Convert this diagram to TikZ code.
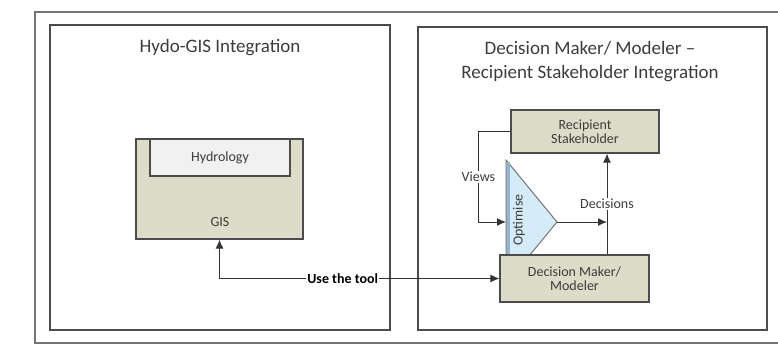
\documentclass[tikz,border=0pt]{standalone}
\usepackage{fontspec}
\setmainfont{Carlito}
\usetikzlibrary{arrows.meta,positioning,calc}
\definecolor{boxfill}{HTML}{DCDCC8}
\definecolor{hydfill}{HTML}{F1F1F1}
\definecolor{optfill}{HTML}{D5EBF7}
\definecolor{optedge}{HTML}{8FB4CC}
\definecolor{txtgray}{HTML}{3C3C3C}

\begin{document}
\begin{tikzpicture}[x=1pt,y=-1pt,
panel/.style={draw=black!70,line width=1.3pt},
block/.style={draw=black!70,line width=1.2pt,fill=boxfill,text=txtgray,
  align=center,font=\fontsize{14}{16}\selectfont},
title/.style={text=txtgray,align=center,font=\fontsize{19}{24}\selectfont},
lbl/.style={text=txtgray,font=\fontsize{14}{16}\selectfont},
arr/.style={draw=black!80,line width=1pt,-{Latex[length=9pt,width=8pt]}}]
\useasboundingbox (0,0) rectangle (778,348);
% page frame
\draw[draw=black!55,line width=1.5pt] (778,12) -- (35,12) -- (35,343) -- (778,343);
% panels
\draw[panel] (50,25) rectangle (390,330);
\draw[panel] (418,27) rectangle (767,330);
\node[title] (ltitle) at (220,48) {Hydo-GIS Integration};
\node[title] (rtitle) at (590,62) {Decision Maker/ Modeler --\\Recipient Stakeholder Integration};
% left side
\node[block,minimum width=167,minimum height=100] (gis) at (219.5,189) {};
\node[draw=black!70,line width=1.2pt,fill=hydfill,minimum width=140,minimum height=37,
  lbl] (hyd) at (220,157.5) {Hydrology};
\node[lbl] (gislbl) at (220,222) {GIS};
% right side
\coordinate (optup) at (506,160);
\coordinate (optout) at (557,222);
\coordinate (optdn) at (506,284);
\coordinate (optin) at (506,222);
\coordinate (dec) at (607,222);
\filldraw[fill=optfill,draw=black!55,line width=1pt] (optup) -- (optout) -- (optdn) -- cycle;
\draw[draw=optedge,line width=3pt] ($(optup)+(2,2)$) -- ($(optdn)+(2,0)$);
\node[lbl,rotate=90] (optlbl) at (519,220) {Optimise};
\node[block,minimum width=148,minimum height=43] (rs) at (585,131.5) {Recipient\\[-2pt]Stakeholder};
\node[block,minimum width=149,minimum height=47] (dm) at (574.5,278.5) {Decision Maker/\\[-2pt]Modeler};
% connectors
\draw[arr,{Latex[length=9pt,width=8pt]}-{Latex[length=9pt,width=8pt]}] (gis.south) |-
  node[pos=0.72,fill=white,inner sep=1pt,font=\bfseries\fontsize{14}{16}\selectfont,text=black] {Use the tool} (dm.west);
\draw[arr] (rs.west) -- ++(-32,0) |- node[pos=0.25,fill=white,lbl,inner sep=1pt] {Views} (optin);
\draw[arr] (optout) -- (dec);
\draw[arr] (dm.north -| dec) -- node[fill=white,lbl,inner sep=1pt,pos=0.5] {Decisions} (rs.south -| dec);
\end{tikzpicture}
\end{document}
